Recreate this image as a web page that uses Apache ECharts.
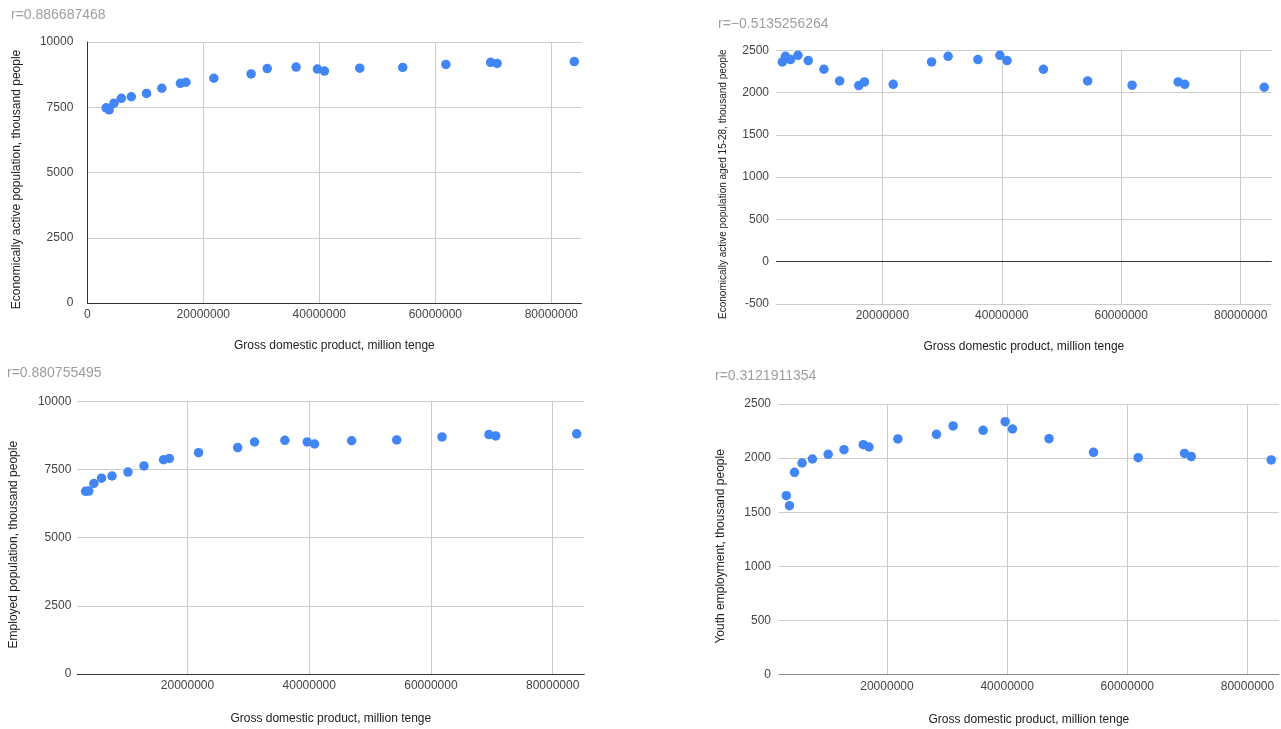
<!DOCTYPE html>
<html>
<head>
<meta charset="utf-8">
<script src="https://cdn.jsdelivr.net/npm/echarts@6/dist/echarts.min.js"></script>
<style>
html,body{margin:0;padding:0;background:#fff;}
#chart{width:1281px;height:729px;}
</style>
</head>
<body>
<div id="chart"></div>
<script>
// GDP, million tenge (x values, shared by all four panels)
const gdp = [3250593, 3776277, 4611975, 5870134, 7590594, 10213731, 12849794, 16052919, 17007647, 21815517, 28243053, 31015187, 35999025, 39675833, 40884134, 46971150, 54378858, 61819536, 69532627, 70649033, 83951589];
// Economically active population, thousand people
const activePop = [7479.1, 7399.7, 7657.0, 7840.6, 7901.7, 8028.3, 8228.4, 8415.0, 8457.8, 8610.7, 8774.6, 8981.9, 9041.2, 8962.1, 8887.6, 8998.8, 9027.4, 9138.6, 9221.5, 9180.8, 9249.1];
// Economically active population aged 15-28, thousand people
const youthActive = [2362, 2429, 2390, 2441, 2378, 2276, 2138, 2083, 2126, 2098, 2362, 2429, 2390, 2441, 2378, 2276, 2138, 2087, 2126, 2098, 2063];
// Employed population, thousand people
const employed = [6698.8, 6708.9, 6985.2, 7181.8, 7261.0, 7403.5, 7631.1, 7857.2, 7903.4, 8114.2, 8301.6, 8507.1, 8570.6, 8510.1, 8433.8, 8553.4, 8585.2, 8695.0, 8780.8, 8732.0, 8807.1];
// Youth employment, thousand people
const youthEmployed = [1653, 1561, 1869, 1955, 1992, 2035, 2078, 2124, 2103, 2177, 2220, 2297, 2257, 2337, 2269, 2180, 2054, 2004, 2044, 2014, 1983];

const titles = ['r=0.886687468', 'r=\u22120.5135256264', 'r=0.880755495', 'r=0.3121911354'];
const xName = 'Gross domestic product, million tenge';
const yNames = ['Economically active population, thousand people', 'Economically active population aged 15-28, thousand people', 'Employed population, thousand people', 'Youth employment, thousand people'];

const FONT = 'Arial, "Liberation Sans", sans-serif';
const plain = v => String(v);
const panels = [
  {grid:{left:87.3, top:42, width:494.2, height:261}, xmin:0, ymin:0, ymax:10000, yint:2500, ys:activePop,
   title:{left:11, top:8}, yGap:14, yNameGap:65, yNameSize:12, xLine:'#333', showMinX:true},
  {grid:{left:776, top:50.3, width:495.7, height:253.7}, xmin:2190000, ymin:-500, ymax:2500, yint:500, ys:youthActive,
   title:{left:718, top:17}, yGap:7, yNameGap:48, yNameSize:10, xLine:null, zeroLine:true},
  {grid:{left:77.3, top:401.3, width:507, height:272.7}, xmin:1890000, ymin:0, ymax:10000, yint:2500, ys:employed,
   title:{left:7, top:366}, yGap:6, yNameGap:58, yNameSize:12, xLine:'#333'},
  {grid:{left:779, top:404, width:499.7, height:270.7}, xmin:2030000, ymin:0, ymax:2500, yint:500, ys:youthEmployed,
   title:{left:715, top:369}, yGap:8, yNameGap:52, yNameSize:12, xLine:'#888'}
];
const XMAX = 85200000;

const option = {
  animation:false,
  backgroundColor:'#fff',
  title: panels.map((p,i)=>({text:titles[i], left:p.title.left, top:p.title.top, padding:0,
    textStyle:{color:'#9e9e9e', fontSize:14, fontWeight:'normal', fontFamily:FONT}})),
  grid: panels.map(p=>Object.assign({containLabel:false}, p.grid)),
  xAxis: panels.map((p,i)=>({
    type:'value', gridIndex:i, min:p.xmin, max:XMAX, minInterval:20000000, maxInterval:20000000, splitNumber:4,
    name:xName, nameLocation:'middle', nameGap:i<2?37:39,
    nameTextStyle:{color:'#222', fontSize:12, fontFamily:FONT},
    axisLine:{show:!!p.xLine, lineStyle:{color:p.xLine||'#333', width:1}},
    axisTick:{show:false},
    axisLabel:{color:'#444', fontSize:12, fontFamily:FONT, margin:6, formatter:plain, showMinLabel:!!p.showMinX, showMaxLabel:false},
    splitLine:{show:true, showMinLine:false, showMaxLine:false, lineStyle:{color:'#ccc', width:1}}
  })),
  yAxis: panels.map((p,i)=>({
    type:'value', gridIndex:i, min:p.ymin, max:p.ymax, interval:p.yint,
    name:yNames[i], nameLocation:'middle', nameGap:p.yNameGap, nameRotate:90,
    nameTextStyle:{color:'#222', fontSize:p.yNameSize, fontFamily:FONT, padding:[0,14,0,0]},
    axisLine:{show:i===0, lineStyle:{color:'#333', width:1}},
    axisTick:{show:false},
    axisLabel:{color:'#444', fontSize:12, fontFamily:FONT, margin:p.yGap, formatter:plain},
    splitLine:{show:true, lineStyle:{color:'#ccc', width:1}}
  })),
  series: panels.map((p,i)=>{
    const s = {type:'scatter', xAxisIndex:i, yAxisIndex:i, symbol:'circle', symbolSize:9.5,
      itemStyle:{color:'#4285f4', opacity:1}, data: gdp.map((g,k)=>[g, p.ys[k]])};
    if (p.zeroLine) {
      s.markLine = {silent:true, symbol:'none', label:{show:false}, animation:false,
        lineStyle:{color:'#333', width:1, type:'solid'}, emphasis:{disabled:true}, data:[{yAxis:0}]};
    }
    return s;
  })
};

const chart = echarts.init(document.getElementById('chart'), null, {renderer:'canvas'});
chart.setOption(option);
</script>
</body>
</html>
